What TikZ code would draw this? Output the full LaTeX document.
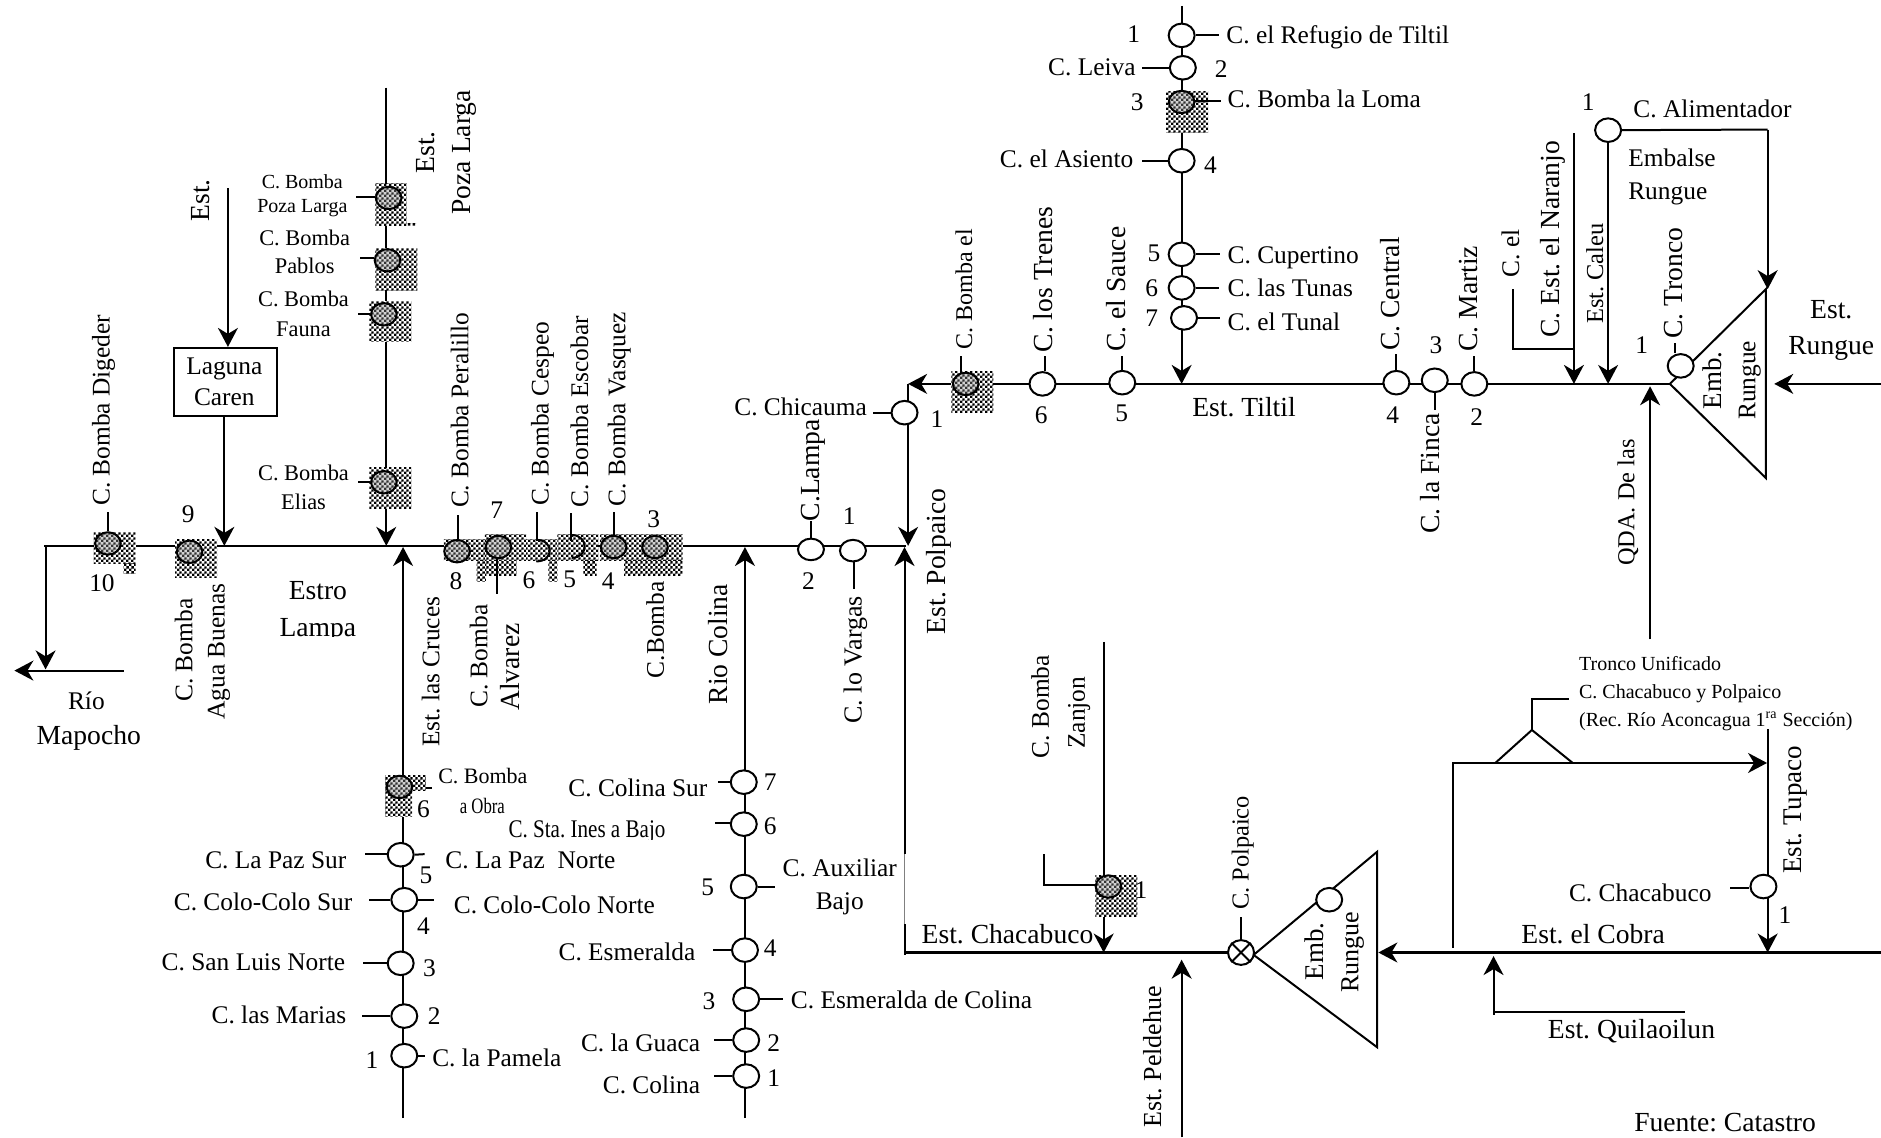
\documentclass[tikz,border=0pt]{standalone}
\usepackage{fontspec}
\setmainfont{Liberation Serif}
\usetikzlibrary{arrows.meta,shapes.geometric,patterns}
\pgfdeclarepatternformonly{chk}{\pgfpointorigin}{\pgfqpoint{2.4pt}{2.4pt}}{\pgfqpoint{2.4pt}{2.4pt}}{%
  \pgfpathrectangle{\pgfpointorigin}{\pgfqpoint{1.2pt}{1.2pt}}%
  \pgfpathrectangle{\pgfqpoint{1.2pt}{1.2pt}}{\pgfqpoint{1.2pt}{1.2pt}}%
  \pgfusepath{fill}}
\newcounter{lb}
\newcommand\Lbl[4][]{\stepcounter{lb}\node[txt,#1] (lb\thelb) at (#2,#3) {#4};}
\newcommand\Rot[4][]{\stepcounter{lb}\node[txt,rotate=90,#1] (lb\thelb) at (#2,#3) {#4};}
\newcommand\Cc[3]{\coordinate (#1) at (#2,#3);}
\newcommand\Pump[4][]{\node[pumpnode,#1] (#2) at (#3,#4) {};}
\newcommand\Bomb[4][]{\node[bombnode,#1] (#2) at (#3,#4) {};}
\newcommand\Hatch[4]{\path[hatchbox] (#1,#2) rectangle (#3,#4);}
\newcommand\TickV[4]{\coordinate (#1-t) at (#3,#4);\draw[flow] (#1.#2 -| #1-t) -- (#1-t);}
\newcommand\TickH[4]{\coordinate (#1-t) at (#3,#4);\draw[flow] (#1.#2 |- #1-t) -- (#1-t);}
\tikzset{
  flow/.style={line width=1pt},
  arr/.style={line width=1pt,-{Stealth[length=9.5pt,width=10pt,inset=3pt]}},
  txt/.style={inner sep=0pt,font=\fontsize{12.7}{14}\selectfont,text height=0.96em,text depth=0.2em},
  smalltxt/.style={font=\fontsize{10}{12}\selectfont},
  midtxt/.style={font=\fontsize{11.2}{13}\selectfont},
  bigtxt/.style={font=\fontsize{13.8}{16}\selectfont},
  pumpnode/.style={ellipse,draw,line width=1pt,fill=white,minimum width=13pt,minimum height=11.8pt,inner sep=0pt},
  bombnode/.style={ellipse,draw,line width=1pt,preaction={fill=gray!35},pattern=chk,pattern color=black!80,minimum width=12.8pt,minimum height=11.2pt,inner sep=0pt},
  hatchbox/.style={preaction={fill=white},pattern=chk,pattern color=black},
}
\begin{document}
\frenchspacing
\begin{tikzpicture}[x=0.6pt,y=-0.6pt]
\useasboundingbox (0,0) rectangle (1568,948);
\fill[white] (0,0) rectangle (1568,948);

% ---------- trunks
\Cc{mL}{37}{455}\Cc{mR}{755}{455}\Cc{rioT}{38}{455}\Cc{rioB}{38}{558}
\Cc{mapR}{103}{559}\Cc{mapL}{12}{559}
\draw[flow] (mL) -- (mR);
\draw[arr] (rioT) -- (rioB);
\draw[arr] (mapR) -- (mapL);
\Cc{plT}{322}{73}\Cc{plB}{322}{455}
\draw[arr] (plT) -- (plB);
\Cc{crB}{336}{932}\Cc{crT}{336}{456}
\draw[arr] (crB) -- (crT);
\Cc{coB}{621}{932}\Cc{coT}{621}{456}
\draw[arr] (coB) -- (coT);
\Cc{estT}{190}{157}\Cc{ti1}{985}{5}\Cc{ti2}{985}{320}
\draw[arr] (ti1) -- (ti2);
\Cc{tmR}{1393}{320}\Cc{tmL}{757}{320}\Cc{polD}{757}{455}
\draw[arr] (tmR) -- (tmL);
\draw[arr] (tmL) -- (polD);
% Polpaico riser
\Cc{peB}{754}{796}\Cc{peA}{754}{770}\Cc{peC}{754}{712}\Cc{peT}{754}{456}
\draw[flow] (peB) -- (peA);
\draw[line width=0.4pt,gray] (peA) -- (peC);
\draw[arr] (peC) -- (peT);

% Laguna box
\node[draw,line width=1pt,minimum width=51.6pt,minimum height=34.2pt,inner sep=0pt] (lag) at (188,318.5) {};
\draw[arr] (estT) -- (lag.north -| estT);
\Cc{lagB}{187}{455}
\draw[arr] (lag.south -| lagB) -- (lagB);

% Upper-right trunk pieces
\Cc{elA}{1261}{241}\Cc{elB}{1261}{291}\Cc{elC}{1312}{291}
\draw[flow] (elA) -- (elB) -- (elC);
\Cc{naT}{1312}{111}\Cc{naB}{1312}{320}
\draw[arr] (naT) -- (naB);
\Cc{caB}{1341}{320}
\Cc{aliC}{1473.5}{108}\Cc{aliE}{1473.5}{241}
\Cc{t1A}{1392}{320}\Cc{t1B}{1472}{241}\Cc{t1C}{1472}{398.5}
\draw[flow] (t1A) -- (t1B) -- (t1C) -- cycle;
\Cc{ruR}{1568}{320}\Cc{ruL}{1479}{320}
\draw[arr] (ruR) -- (ruL);
\Cc{qdB}{1375.5}{533}\Cc{qdT}{1375.5}{322}
\draw[arr] (qdB) -- (qdT);

% Lower-right system
\Cc{chL}{754}{794}\Cc{chR}{1024}{794}
\draw[line width=1.1pt] (chL) -- (chR);
\Cc{zaT}{920}{535}\Cc{zaB}{920}{794}
\draw[arr] (zaT) -- (zaB);
\Cc{zlA}{870}{712}\Cc{zlB}{870}{738}\Cc{zlC}{914}{738}
\draw[flow] (zlA) -- (zlB) -- (zlC);
\Cc{peldB}{985}{948}\Cc{peldT}{985}{800}
\draw[arr] (peldB) -- (peldT);
\Cc{t2A}{1045}{796}\Cc{t2B}{1148}{710}\Cc{t2C}{1148}{873}
\draw[flow] (t2A) -- (t2B) -- (t2C) -- cycle;
\Cc{cobR}{1568}{794}\Cc{cobL}{1149}{794}
\draw[line width=1.1pt,-{Stealth[length=9.5pt,width=10pt,inset=3pt]}] (cobR) -- (cobL);
\Cc{boxA}{1211}{790}\Cc{boxB}{1211}{636}\Cc{boxC}{1473}{636}
\draw[line width=1.1pt,-{Stealth[length=9.5pt,width=10pt,inset=3pt]}] (boxA) -- (boxB) -- (boxC);
\Cc{t3A}{1246.5}{636}\Cc{t3B}{1277}{608.5}\Cc{t3C}{1311}{636}\Cc{t3D}{1277}{583}\Cc{t3E}{1308}{583}
\draw[flow] (t3A) -- (t3B) -- (t3C);
\draw[flow] (t3B) -- (t3D) -- (t3E);
\Cc{tuT}{1473.5}{608}\Cc{tuB}{1473.5}{794}
\draw[arr] (tuT) -- (tuB);
\Cc{quA}{1245}{846}\Cc{quB}{1245}{797}\Cc{quC}{1405}{844}\Cc{quD}{1245}{844}
\draw[arr] (quA) -- (quB);
\draw[flow] (quD) -- (quC);

% ---------- hatched boxes
\Hatch{78}{444}{113}{470}\Hatch{103}{470}{113}{478}
\Hatch{146}{450}{181}{481}
\Hatch{313}{153}{339}{188}\Hatch{339}{186.5}{347}{188}
\Hatch{313}{207}{348}{242}
\Hatch{308}{251}{343}{285}
\Hatch{308}{390}{343}{424}
\begin{scope}[shift={(350.1,400.1)},x=0.16674pt,y=-0.16674pt]
\Hatch{72}{180}{195}{243}
\Hatch{170}{243}{198}{305}
\Hatch{195}{165}{318}{243}
\Hatch{198}{243}{290}{287}
\Hatch{318}{180}{412}{243}
\Hatch{385}{243}{412}{305}
\Hatch{412}{165}{535}{243}
\Hatch{490}{243}{530}{287}
\Hatch{540}{165}{788}{243}
\Hatch{612}{243}{788}{287}
\end{scope}
\Hatch{793}{309.5}{828}{344}
\Hatch{972}{76.5}{1007}{110.5}
\Hatch{913}{729.5}{948}{764}
\Hatch{321}{646.5}{355}{659}\Hatch{321}{659}{343.5}{681}

% ---------- pumps with hatching
\Bomb{digeder}{90}{453}
\Bomb{agua}{158}{460}
\Bomb{pozal}{324}{165}
\Bomb{pablos}{323}{217}
\Bomb{fauna}{320}{262}
\Bomb{elias}{320}{402}
\Bomb{peral}{381}{459.5}
\Bomb{alvarez}{415.5}{456}
\Bomb{vasquez}{511.5}{456}
\Bomb{cb3}{546}{456}
\Bomb{bombael}{805}{320}
\Bomb{loma}{985}{85}
\Bomb{zanjon}{924}{739}
\Bomb{obra}{333}{656}
% partial circles 6 and 5
\coordinate (cesTop) at (447,450);\coordinate (cesBot) at (447,468);
\draw[flow] (cesTop) .. controls (462,450) and (462,468) .. (cesBot);
\coordinate (escTop) at (476.5,446);\coordinate (escBot) at (476.5,465);
\draw[flow] (escTop) .. controls (491,446) and (491,465) .. (escBot);

% ---------- hollow pumps
\Pump[minimum height=10.8pt]{lampa}{676}{458}
\Pump[minimum height=10.8pt]{vargas}{711}{459}
\Pump{chica}{754}{344}
\Pump{trenes}{869}{320}
\Pump{sauce}{935.5}{319}
\Pump{ref}{985}{29.5}
\Pump{leiva}{986}{56.5}
\Pump{asiento}{985}{134}
\Pump{cup}{985}{212}
\Pump{tunas}{985}{240}
\Pump{tunal}{987}{265}
\Pump{central}{1164}{319}
\Pump{finca}{1196}{317}
\Pump{martiz}{1229}{320}
\Pump{alim}{1340.5}{108.5}
\Pump{tronco}{1401}{305}
\Pump{pazs}{334}{712.5}
\Pump{colo}{337}{750}
\Pump{sanl}{334}{803}
\Pump{marias}{337}{847}
\Pump{pamela}{337}{880}
\Pump{c7}{620}{652}
\Pump{c6}{620}{687}
\Pump{c5}{620}{739}
\Pump{c4}{621}{792}
\Pump{c3}{622}{833}
\Pump{c2}{622}{867}
\Pump{c1}{622}{897}
\Pump{emb2}{1108}{750}
\Pump{chaca}{1470}{739}
\Pump[minimum height=12.4pt]{polpa}{1034.5}{794}
\draw[flow] (polpa.45) -- (polpa.225);
\draw[flow] (polpa.135) -- (polpa.315);

% connectors of the Alimentador pump
\draw[arr] (alim.south) -- (alim.south |- caB);
\draw[flow] (alim.east) -- (aliC);
\draw[arr] (aliC) -- (aliE);

% ---------- ticks
\TickV{digeder}{north}{90}{427}
\TickH{pozal}{west}{297}{164}
\TickH{pablos}{west}{300}{215}
\TickH{fauna}{west}{298.5}{262}
\TickH{elias}{west}{298.5}{402}
\TickV{peral}{north}{382}{429}
\TickV{alvarez}{south}{414.5}{495}
\coordinate (ces6a) at (447.5,450);\coordinate (ces6b) at (447.5,427);
\draw[flow] (ces6a) -- (ces6b);
\coordinate (esc5a) at (475.7,451);\coordinate (esc5b) at (475.7,428);
\draw[flow] (esc5a) -- (esc5b);
\TickV{vasquez}{north}{511.5}{427}
\TickV{lampa}{north}{676}{434}
\TickV{vargas}{south}{712}{491}
\TickH{chica}{west}{728}{344}
\TickV{bombael}{north}{801}{297}
\TickV{trenes}{north}{871}{297}
\TickV{sauce}{north}{935}{297}
\TickH{ref}{east}{1016.5}{29.5}
\TickH{leiva}{west}{952}{56.5}
\TickH{loma}{east}{1018}{84}
\TickH{asiento}{west}{952}{134}
\TickH{cup}{east}{1017}{212}
\TickH{tunas}{east}{1016}{240}
\TickH{tunal}{east}{1017}{265}
\TickV{central}{north}{1164}{295}
\TickV{finca}{south}{1196}{342}
\TickV{martiz}{north}{1229}{297}
\TickV{tronco}{north}{1396.5}{286}
\TickH{pazs}{west}{304}{712}
\coordinate (pazsR) at (354,712);\draw[flow] (pazs.east) -- (pazsR);
\TickH{colo}{west}{308}{750}
\coordinate (coloR) at (362,750);\draw[flow] (colo.east) -- (coloR);
\TickH{sanl}{west}{303}{803}
\TickH{marias}{west}{302}{847}
\TickH{pamela}{east}{354.5}{880}
\coordinate (obraT) at (360.5,657);\coordinate (obraH) at (355,657);
\draw[flow] (obraH) -- (obraT);
\TickH{c7}{west}{598.5}{652}
\TickH{c6}{west}{596}{686}
\TickH{c5}{east}{646}{739}
\TickH{c4}{west}{594}{792}
\TickH{c3}{east}{653}{833}
\TickH{c2}{west}{595}{867}
\TickH{c1}{west}{595}{897}
\TickV{polpa}{north}{1034.5}{764}
\TickH{chaca}{west}{1442}{740}

% ---------- left part labels
\Lbl{72}{585}{Río}
\Lbl[bigtxt]{74}{614}{Mapocho}
\Lbl{85}{487}{10}
\Lbl{157}{429}{9}
\Rot{85}{342}{C. Bomba Digeder}
\Rot{154}{542}{C. Bomba}
\Rot{181}{543}{Agua Buenas}
\Lbl{187}{306}{Laguna}
\Lbl{187}{332}{Caren}
\Rot[bigtxt]{168}{167}{Est.}
\Rot[bigtxt]{356}{127}{Est.}
\Rot[bigtxt]{386}{127}{Poza Larga}
\Lbl[smalltxt]{252}{151}{C. Bomba}
\Lbl[smalltxt]{252}{171}{Poza Larga}
\Lbl[midtxt]{254}{198}{C. Bomba}
\Lbl[midtxt]{254}{222}{Pablos}
\Lbl[midtxt]{253}{249}{C. Bomba}
\Lbl[midtxt]{253}{274}{Fauna}
\Lbl[midtxt]{253}{394}{C. Bomba}
\Lbl[midtxt]{253}{418}{Elias}
\Lbl[bigtxt]{265}{493}{Estro}
\Lbl[bigtxt]{265}{524}{Lampa}
\Rot{360}{560}{Est. las Cruces}
\Rot{384}{342}{C. Bomba Peralillo}
\Rot{451}{345}{C. Bomba Cespeo}
\Rot{484}{343}{C. Bomba Escobar}
\Rot{515}{341}{C. Bomba Vasquez}
\Rot{400}{547}{C. Bomba}
\Rot[bigtxt]{427}{556}{Alvarez}
\Rot{547}{525}{C.Bomba}
\Lbl{380}{485}{8}
\Lbl{414}{426}{7}
\Lbl{441}{484}{6}
\Lbl{475}{483}{5}
\Lbl{507}{485}{4}
\Lbl{545}{433}{3}
\Rot[bigtxt]{600}{537}{Rio Colina}
\Rot[bigtxt]{677}{392}{C.Lampa}
\Lbl{674}{485}{2}
\Lbl{708}{431}{1}
\Rot[font=\fontsize{13}{15}\selectfont]{712}{550}{C. lo Vargas}
\Rot[bigtxt]{782}{468}{Est. Polpaico}
\Lbl[anchor=east]{723}{340}{C. Chicauma}
\Lbl{781}{350}{1}

% ---------- upper middle labels
\Rot[font=\fontsize{12}{14}\selectfont]{804}{241}{C. Bomba el}
\Rot[bigtxt]{871}{233}{C. los Trenes}
\Rot[bigtxt]{932}{241}{C. el Sauce}
\Lbl{868}{347}{6}
\Lbl{935}{345}{5}
\Lbl{945}{29}{1}
\Lbl[anchor=west]{1022}{30}{C. el Refugio de Tiltil}
\Lbl[anchor=east]{947}{57}{C. Leiva}
\Lbl{1018}{58}{2}
\Lbl{948}{86}{3}
\Lbl[anchor=west]{1023}{83}{C. Bomba la Loma}
\Lbl[anchor=east]{945}{133}{C. el Asiento}
\Lbl{1009}{138}{4}
\Lbl{962}{212}{5}
\Lbl[anchor=west]{1023}{213}{C. Cupertino}
\Lbl{960}{241}{6}
\Lbl[anchor=west]{1023}{241}{C. las Tunas}
\Lbl{960}{266}{7}
\Lbl[anchor=west]{1023}{269}{C. el Tunal}
\Lbl[bigtxt]{1037}{341}{Est. Tiltil}
\Rot[bigtxt]{1160}{245}{C. Central}
\Lbl{1161}{347}{4}
\Rot[bigtxt]{1194}{394.5}{C. la Finca}
\Lbl{1197}{288.5}{3}
\Rot[bigtxt]{1225}{249}{C. Martiz}
\Lbl{1231}{348}{2}
\Rot{1260}{211}{C. el}
\Rot[bigtxt]{1293.5}{199.5}{C. Est. el Naranjo}
\Rot[font=\fontsize{12.2}{14}\selectfont]{1330}{228}{Est. Caleu}
\Lbl{1324}{86}{1}
\Lbl{1427.5}{91.5}{C. Alimentador}
\Lbl[anchor=west]{1357}{132.5}{Embalse}
\Lbl[anchor=west]{1357}{160}{Rungue}
\Rot[bigtxt]{1396.5}{236}{C. Tronco}
\Lbl{1368.5}{288.5}{1}
\Rot[font=\fontsize{13.5}{15}\selectfont]{1429}{317}{Emb.}
\Rot{1457}{317}{Rungue}
\Lbl[bigtxt]{1526.5}{259.5}{Est.}
\Lbl[bigtxt]{1526.5}{289}{Rungue}
\Rot[font=\fontsize{12.2}{14}\selectfont]{1356}{419}{QDA. De las}

% ---------- lower left labels
\Lbl[font=\fontsize{11}{13}\selectfont,anchor=west]{365}{647}{C. Bomba}
\Lbl[font=\fontsize{11}{13}\selectfont,anchor=west]{383}{672}{\scalebox{0.76}[1]{a Obra}}
\Lbl{353}{675}{6}
\Lbl[anchor=east]{289}{718}{C. La Paz Sur}
\Lbl[anchor=west]{371}{718}{C. La Paz\ \ Norte}
\Lbl{355}{730}{5}
\Lbl[anchor=east]{294}{753}{C. Colo-Colo Sur}
\Lbl[anchor=west]{378}{755}{C. Colo-Colo Norte}
\Lbl{353}{773}{4}
\Lbl[anchor=east]{288}{803}{C. San Luis Norte}
\Lbl{358}{808}{3}
\Lbl[anchor=east]{289}{847}{C. las Marias}
\Lbl{362}{848}{2}
\Lbl[anchor=west]{360}{883}{C. la Pamela}
\Lbl{310}{884}{1}
\Lbl[anchor=east]{590}{658}{C. Colina Sur}
\Lbl{642}{653}{7}
\Lbl[anchor=east]{555}{692}{\scalebox{0.83}[1]{C. Sta. Ines a Bajo}}
\Lbl{642}{689}{6}
\Lbl{700}{724}{C. Auxiliar}
\Lbl{700}{752}{Bajo}
\Lbl{590}{740}{5}
\Lbl[anchor=east]{580}{794}{C. Esmeralda}
\Lbl{642}{791}{4}
\Lbl[anchor=west]{659}{834}{C. Esmeralda de Colina}
\Lbl{591}{835}{3}
\Lbl[anchor=east]{584}{870}{C. la Guaca}
\Lbl{645}{870}{2}
\Lbl[anchor=east]{584}{905}{C. Colina}
\Lbl{645}{899}{1}

% ---------- lower right labels
\Rot{868}{589}{C. Bomba}
\Rot{898}{594}{Zanjon}
\Lbl{951}{743}{1}
\Lbl[bigtxt,anchor=west]{768}{780}{Est. Chacabuco}
\Rot[font=\fontsize{12.2}{14}\selectfont]{1034.5}{711}{C. Polpaico}
\Rot[font=\fontsize{13.5}{15}\selectfont]{1097}{793}{Emb.}
\Rot[font=\fontsize{13}{15}\selectfont]{1126}{794}{Rungue}
\Rot[font=\fontsize{13}{15}\selectfont]{961.5}{881}{Est. Peldehue}
\Lbl[font=\fontsize{10}{12}\selectfont,anchor=west]{1316}{553}{Tronco Unificado}
\Lbl[font=\fontsize{10}{12}\selectfont,anchor=west]{1316}{576}{C. Chacabuco y Polpaico}
\Lbl[font=\fontsize{10}{12}\selectfont,anchor=west]{1316}{599}{(Rec. Río Aconcagua 1\textsuperscript{ra} Sección)}
\Rot[font=\fontsize{13.5}{15}\selectfont]{1495}{675}{Est. Tupaco}
\Lbl[anchor=east]{1427}{745}{C. Chacabuco}
\Lbl{1488}{763.5}{1}
\Lbl[bigtxt]{1328}{780}{Est. el Cobra}
\Lbl[bigtxt]{1360}{859}{Est. Quilaoilun}
\Lbl[bigtxt,anchor=base,text depth=0pt]{1438}{943.5}{Fuente: Catastro}

% text cut off in the source
\fill[white] (235,531) rectangle (295,540);
\fill[white] (420,700.5) rectangle (557,705);
\end{tikzpicture}
\end{document}
